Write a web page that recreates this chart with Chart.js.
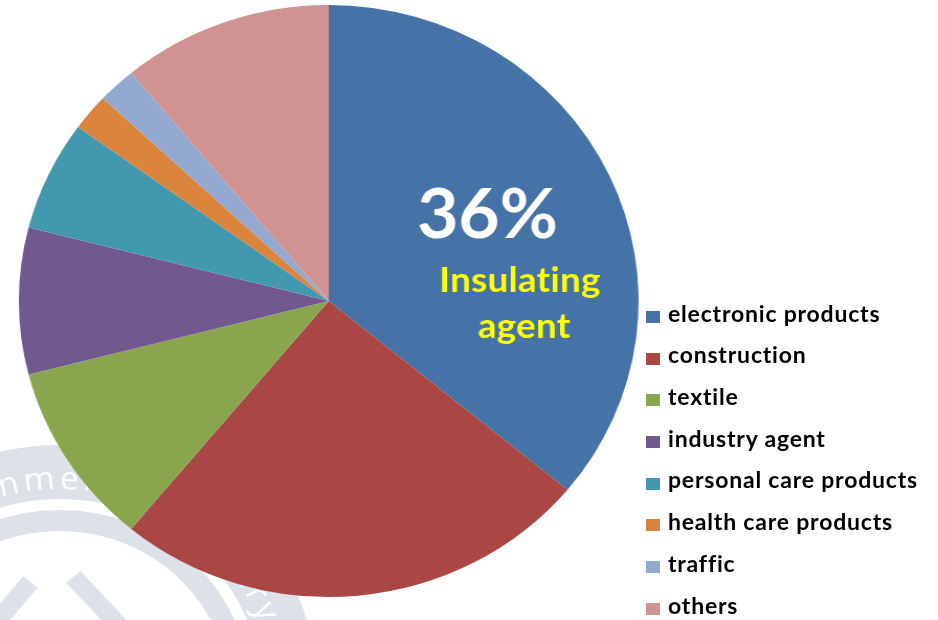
<!DOCTYPE html>
<html>
<head>
<meta charset="utf-8">
<script src="https://cdn.jsdelivr.net/npm/chart.js@4.4.1/dist/chart.umd.min.js"></script>
<style>
  html, body { margin: 0; padding: 0; background: #fff; }
  body { width: 938px; height: 620px; position: relative; overflow: hidden; }
  /* the pie is drawn slightly wider than tall */
  #wrap { position: absolute; left: 0; top: 0; width: 896px; height: 620px;
          transform: scaleX(1.046875); transform-origin: 0 0; }
  #legend { position: absolute; left: 646px; top: 0; margin: 0; padding: 0; list-style: none;
            font: 700 23px Lato, sans-serif; line-height: 23px; letter-spacing: 0.8px; color: #000; }
  #legend li { position: absolute; left: 0; white-space: nowrap; padding-left: 22px; }
  #legend .box { position: absolute; left: 0; top: 9.4px; width: 14px; height: 12px; }
</style>
</head>
<body>
<div id="wrap"><canvas id="usageChart"></canvas></div>
<ul id="legend"></ul>
<script>
const categories = ["electronic products", "construction", "textile", "industry agent",
                    "personal care products", "health care products", "traffic", "others"];
const shares = [36, 25, 10, 8, 6, 2, 2, 11];
const sliceColors = ["#4572A7", "#AA4643", "#89A54E", "#71588F",
                     "#4198AF", "#DB843D", "#93A9CF", "#D19392"];
const calloutLines = ["Insulating", "agent"];

// faint seal behind the pie
const sealPlugin = {
  id: "seal",
  beforeDatasetsDraw(chart) {
    const ctx = chart.ctx;
    const cx = 57, cy = 692;
    ctx.save();
    ctx.fillStyle = "#dde2e8";
    ctx.strokeStyle = "#dde2e8";
    ctx.beginPath();
    ctx.arc(cx, cy, 247, 0, Math.PI * 2);
    ctx.arc(cx, cy, 193, 0, Math.PI * 2, true);
    ctx.fill();
    ctx.beginPath();
    ctx.arc(cx, cy, 182, 0, Math.PI * 2);
    ctx.arc(cx, cy, 161, 0, Math.PI * 2, true);
    ctx.fill();
    ctx.lineWidth = 18;
    ctx.beginPath();
    ctx.moveTo(29, 582); ctx.lineTo(-14, 635);
    ctx.moveTo(70, 577); ctx.lineTo(118, 630);
    ctx.stroke();

    ctx.fillStyle = "#fff";
    ctx.font = "400 32px 'Open Sans', sans-serif";
    ctx.textAlign = "center";
    ctx.textBaseline = "middle";
    arcText(ctx, "environment", cx, cy, 212, -103.3, 6, 5);
    arcText(ctx, "industry", cx, cy, 212, -27.6, 6, 5);
    ctx.restore();
  }
};

// places text clockwise along a circle, with character `idx` centred at `deg`
function arcText(ctx, text, cx, cy, r, deg, idx, gap) {
  const chars = [...text];
  const widths = chars.map(c => ctx.measureText(c).width);
  let a = deg * Math.PI / 180;
  for (let i = 0; i < idx; i++) a -= (widths[i] + gap) / r;
  a -= widths[idx] / 2 / r;
  chars.forEach((c, i) => {
    a += widths[i] / 2 / r;
    ctx.save();
    ctx.translate(cx + r * Math.cos(a), cy + r * Math.sin(a));
    ctx.rotate(a + Math.PI / 2);
    ctx.fillText(c, 0, 0);
    ctx.restore();
    a += (widths[i] / 2 + gap) / r;
  });
}

// percentage and caption inside the biggest slice
const calloutPlugin = {
  id: "callout",
  afterDatasetsDraw(chart) {
    const arc = chart.getDatasetMeta(0).data[0];
    const { x, y, startAngle, endAngle, outerRadius } = arc.getProps(["x", "y", "startAngle", "endAngle", "outerRadius"]);
    const mid = (startAngle + endAngle) / 2;
    const ax = x + Math.cos(mid) * outerRadius * 0.6;
    const ay = y + Math.sin(mid) * outerRadius * 0.6;
    const total = shares.reduce((s, v) => s + v, 0);
    const ctx = chart.ctx;
    ctx.save();
    ctx.textAlign = "center";
    ctx.textBaseline = "alphabetic";
    ctx.fillStyle = "#fff";
    ctx.font = "700 68px Lato, sans-serif";
    ctx.fillText(Math.round(shares[0] / total * 100) + "%", ax - 9, ay + 13);
    ctx.fillStyle = "#ffff00";
    ctx.font = "700 35px Lato, sans-serif";
    ctx.letterSpacing = "0.3px"; // keeps "ti" from joining
    ctx.fillText(calloutLines[0], ax + 22, ay + 67);
    ctx.fillText(calloutLines[1], ax + 26, ay + 113);
    ctx.restore();
  }
};

const chart = new Chart(document.getElementById("usageChart"), {
  type: "pie",
  data: {
    labels: categories,
    datasets: [{ data: shares, backgroundColor: sliceColors, borderWidth: 0 }]
  },
  options: {
    responsive: true,
    maintainAspectRatio: false,
    animation: false,
    layout: { padding: { left: 18, right: 286, top: 5, bottom: 23 } },
    plugins: { legend: { display: false }, tooltip: { enabled: false } }
  },
  plugins: [sealPlugin, calloutPlugin]
});

// legend list at the right
const legend = document.getElementById("legend");
categories.forEach((name, i) => {
  const li = document.createElement("li");
  li.style.top = (301.6 + i * 41.7) + "px";
  const box = document.createElement("span");
  box.className = "box";
  box.style.background = sliceColors[i];
  li.appendChild(box);
  li.appendChild(document.createTextNode(name));
  legend.appendChild(li);
});
</script>
</body>
</html>
